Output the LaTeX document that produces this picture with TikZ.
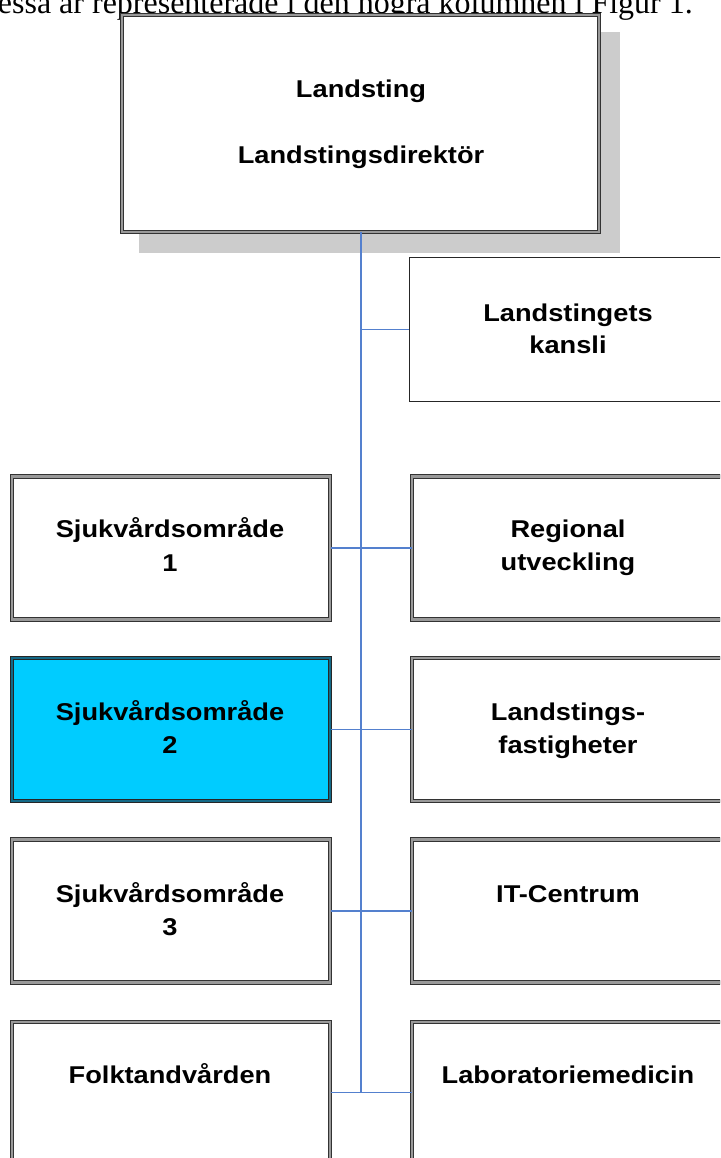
\documentclass[tikz,border=0pt]{standalone}
\usepackage{fontspec}
\setmainfont{Liberation Serif}
\newfontfamily\boxfont[FakeStretch=1.12]{Liberation Sans}
\definecolor{linkblue}{RGB}{84,128,206}
\definecolor{hilite}{RGB}{0,204,255}
\definecolor{hiliteedge}{RGB}{20,105,135}
\definecolor{shadowgray}{RGB}{204,204,204}
\tikzset{
  orgbox/.style={draw=black!80, line width=1pt, double=black!40, double distance=2.2pt,
    fill=white, rectangle, inner sep=0pt, minimum width=#1},
  orgbox/.default=318pt,
  plainbox/.style={draw=black!85, line width=1.2pt, fill=white, rectangle, inner sep=0pt,
    minimum width=318pt, minimum height=144pt},
  hibox/.style={orgbox, fill=hilite, draw=black!85, double=hiliteedge},
  boxtext/.style={anchor=base, inner sep=0pt, font=\boxfont\bfseries\fontsize{24.3}{29}\selectfont},
  link/.style={draw=linkblue, line width=1.4pt},
  trunk/.style={draw=linkblue, line width=1.9pt},
}
\begin{document}
\begin{tikzpicture}[x=1pt, y=-1pt]
\useasboundingbox (0,0) rectangle (720,1158);
\clip (0,0) rectangle (720,1158);

% running text of the page above the chart
\node[anchor=base east, inner sep=0pt, font=\fontsize{32}{37}\selectfont] (caption)
  at (693,13.5) {Dessa är representerade i den högra kolumnen i Figur 1.};

% head box with its drop shadow
\fill[shadowgray] (139,32) rectangle (620,253);
\node[orgbox=477pt, minimum height=217pt] (top) at (360.5,123.5) {};
\node[boxtext] (top-a) at (361,98) {Landsting};
\node[boxtext] (top-b) at (361,164) {Landstingsdirektör};

% staff unit
\node[plainbox] (kansli) at (568.5,329.5) {};
\node[boxtext] (kansli-a) at (568,321) {Landstingets};
\node[boxtext] (kansli-b) at (568,353) {kansli};

% left column
\node[orgbox, minimum height=143pt] (s1) at (171,548) {};
\node[boxtext] (s1-a) at (170,537) {Sjukvårdsområde};
\node[boxtext] (s1-b) at (170,571) {1};

\node[hibox, minimum height=143pt] (s2) at (171,729.5) {};
\node[boxtext] (s2-a) at (170,720) {Sjukvårdsområde};
\node[boxtext] (s2-b) at (170,753) {2};

\node[orgbox, minimum height=143pt] (s3) at (171,911) {};
\node[boxtext] (s3-a) at (170,902) {Sjukvårdsområde};
\node[boxtext] (s3-b) at (170,935) {3};

\node[orgbox, minimum height=180pt] (folk) at (171,1112) {};
\node[boxtext] (folk-a) at (170,1083) {Folktandvården};

% right column
\node[orgbox, minimum height=143pt] (reg) at (571,548) {};
\node[boxtext] (reg-a) at (568,537) {Regional};
\node[boxtext] (reg-b) at (568,570) {utveckling};

\node[orgbox, minimum height=143pt] (fast) at (571,729.5) {};
\node[boxtext] (fast-a) at (568,720) {Landstings-};
\node[boxtext] (fast-b) at (568,753) {fastigheter};

\node[orgbox, minimum height=143pt] (it) at (571,911) {};
\node[boxtext] (it-a) at (568,902) {IT-Centrum};

\node[orgbox, minimum height=180pt] (lab) at (571,1112) {};
\node[boxtext] (lab-a) at (568,1083) {Laboratoriemedicin};

% connectors
\coordinate (trunkend) at (361,1092.5);
\draw[trunk] (top.south -| trunkend) -- (trunkend);
\draw[link] (kansli.west -| trunkend) -- (kansli.west);
\draw[link] (s1.east) -- (reg.west);
\draw[link] (s2.east) -- (fast.west);
\draw[link] (s3.east) -- (it.west);
\draw[link] (folk.east |- trunkend) -- (lab.west |- trunkend);
\end{tikzpicture}
\end{document}
